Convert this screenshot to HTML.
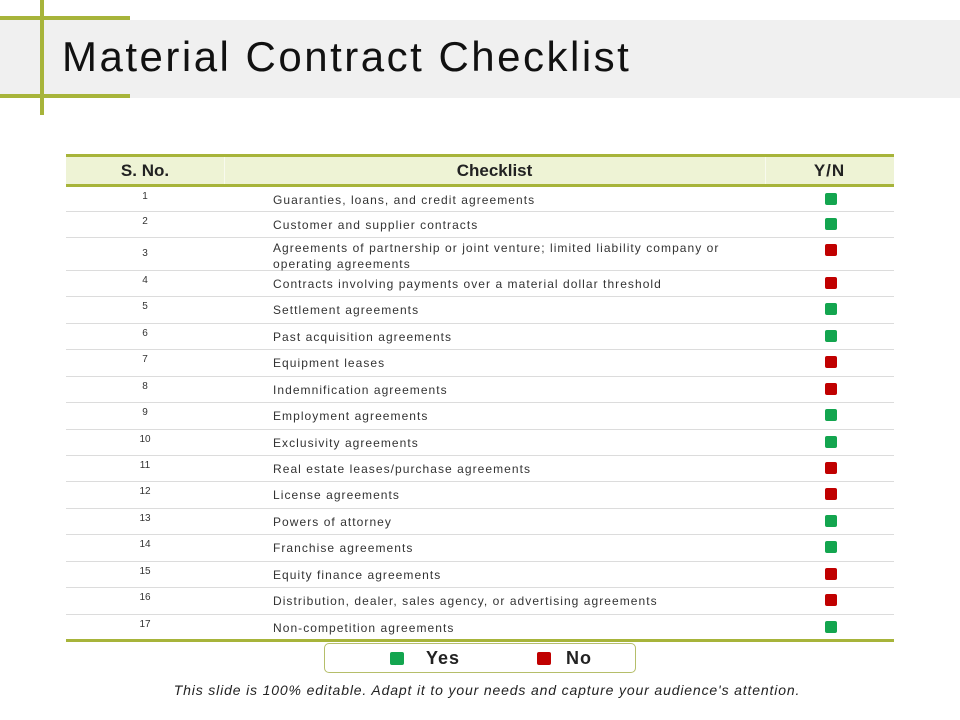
<!DOCTYPE html>
<html><head><meta charset="utf-8"><style>
body{margin:0;width:960px;height:720px;background:#fff;position:relative;overflow:hidden;font-family:"Liberation Sans",sans-serif;color:#222}
.a{position:absolute}
.g{background:#a7b43a}
.row{position:absolute;left:66px;width:828px;border-bottom:1.5px solid #dcdcdc;box-sizing:border-box}
.num{position:absolute;left:0;width:158px;text-align:center;font-size:10px;color:#333}
.txt{position:absolute;left:207px;font-size:12px;color:#333;line-height:16px;letter-spacing:1.05px}
.sq{position:absolute;left:759px;width:12px;height:12px;border-radius:2px}
.y{background:#13a54f}.n{background:#c00000}
</style></head><body>
<div class="a" style="left:0;top:20px;width:960px;height:78px;background:#f0f0f0"></div>
<div class="a g" style="left:0;top:16px;width:130px;height:4px"></div>
<div class="a g" style="left:0;top:94px;width:130px;height:4px"></div>
<div class="a g" style="left:40px;top:0;width:4px;height:115px"></div>
<div class="a" style="left:62px;top:33px;font-size:42px;color:#111;letter-spacing:2.5px">Material Contract Checklist</div>

<div class="a g" style="left:66px;top:154px;width:828px;height:3px"></div>
<div class="a" style="left:66px;top:157px;width:828px;height:28px;background:#eef3d5"></div>
<div class="a" style="left:224px;top:157px;width:1px;height:28px;background:#f8faee"></div>
<div class="a" style="left:765px;top:157px;width:1px;height:28px;background:#f8faee"></div>
<div class="a g" style="left:66px;top:184px;width:828px;height:3px"></div>
<div class="a" style="left:66px;top:161px;width:158px;text-align:center;font-weight:bold;font-size:17px">S. No.</div>
<div class="a" style="left:224px;top:161px;width:541px;text-align:center;font-weight:bold;font-size:17px">Checklist</div>
<div class="a" style="left:765px;top:161px;width:129px;text-align:center;font-weight:bold;font-size:17px;letter-spacing:1px">Y/N</div>

<div id="rows"></div>
<script>
var d=[["Guaranties, loans, and credit agreements","y"],["Customer and supplier contracts","y"],["Agreements of partnership or joint venture; limited liability company or<br>operating agreements","n"],["Contracts involving payments over a material dollar threshold","n"],["Settlement agreements","y"],["Past acquisition agreements","y"],["Equipment leases","n"],["Indemnification agreements","n"],["Employment agreements","y"],["Exclusivity agreements","y"],["Real estate leases/purchase  agreements","n"],["License agreements","n"],["Powers of attorney","y"],["Franchise agreements","y"],["Equity finance agreements","n"],["Distribution, dealer, sales agency,  or advertising agreements","n"],["Non-competition agreements","y"]];
var tops=[187,212,238];for(var i=3;i<=17;i++)tops.push(271+(i-3)*26.43);
var h="";
for(var i=0;i<17;i++){var t=tops[i],hh=tops[i+1]-t;var two=i==2;
h+='<div class="row" style="top:'+t+'px;height:'+hh+'px;'+(i==16?'border-bottom:none':'')+'">'+
'<div class="num" style="top:'+(two?10:4)+'px">'+(i+1)+'</div>'+
'<div class="txt" style="top:'+(two?2:5)+'px">'+d[i][0]+'</div>'+
'<div class="sq '+d[i][1]+'" style="top:6px"></div></div>';}
document.getElementById("rows").innerHTML=h;
</script>
<div class="a g" style="left:66px;top:639px;width:828px;height:3px"></div>

<div class="a" style="left:324px;top:643px;width:312px;height:30px;border:1.5px solid #b5be6a;border-radius:5px;box-sizing:border-box"></div>
<div class="a y" style="left:390px;top:652px;width:14px;height:13px;border-radius:2px"></div>
<div class="a" style="left:426px;top:648px;font-size:18px;font-weight:bold;letter-spacing:1px">Yes</div>
<div class="a n" style="left:537px;top:652px;width:14px;height:13px;border-radius:2px"></div>
<div class="a" style="left:566px;top:648px;font-size:18px;font-weight:bold;letter-spacing:1px">No</div>
<div class="a" style="left:0;top:682px;width:974px;text-align:center;font-size:14px;font-style:italic;color:#222;letter-spacing:0.85px">This slide is 100% editable. Adapt it to your needs and capture your audience's attention.</div>
</body></html>
